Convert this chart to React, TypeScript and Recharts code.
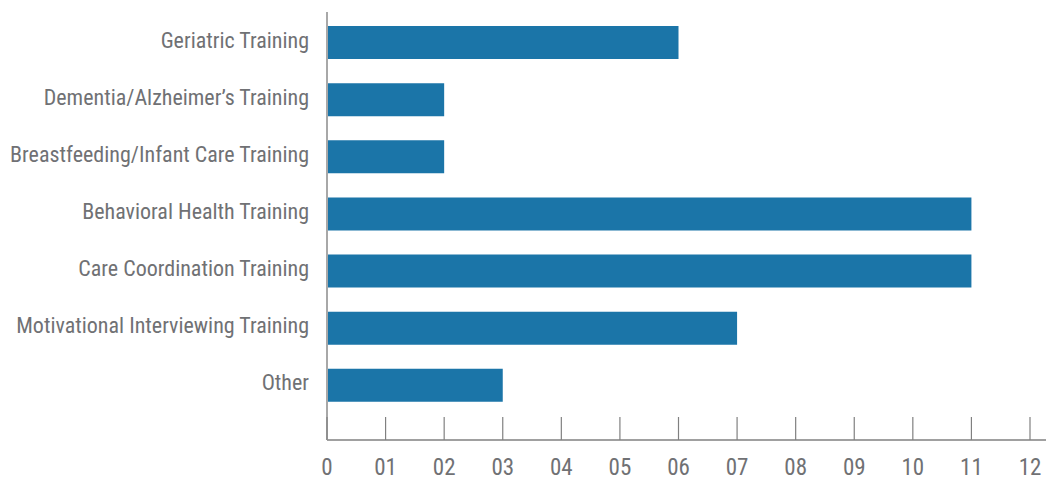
import React from "react";
import { BarChart, Bar, XAxis, YAxis } from "recharts";

const categories = [
  "Geriatric Training",
  "Dementia/Alzheimer’s Training",
  "Breastfeeding/Infant Care Training",
  "Behavioral Health Training",
  "Care Coordination Training",
  "Motivational Interviewing Training",
  "Other",
];
const values = [6, 2, 2, 11, 11, 7, 3];
const xTicks = [0, 1, 2, 3, 4, 5, 6, 7, 8, 9, 10, 11, 12];
const xTickLabels = ["0", "01", "02", "03", "04", "05", "06", "07", "08", "09", "10", "11", "12"];

const data = categories.map((name, i) => ({ name, value: values[i] }));

const FONT = "'Roboto Condensed', Roboto, sans-serif";
const TEXT = "#707174";
const AXIS = "#808080";

const XTick = (props: any) => {
  const { x, y, payload } = props;
  const idx = xTicks.indexOf(payload.value);
  return (
    <g>
      <line x1={x} x2={x} y1={y - 23} y2={y} stroke={AXIS} strokeWidth={1.2} />
      <text x={x} y={y + 35} textAnchor="middle" fill={TEXT} fontSize={23} fontFamily={FONT}>
        {idx >= 0 ? xTickLabels[idx] : payload.value}
      </text>
    </g>
  );
};

const YTick = (props: any) => {
  const { x, y, payload } = props;
  return (
    <text x={x} y={y + 5} textAnchor="end" fill={TEXT} fontSize={22} fontFamily={FONT}>
      {payload.value}
    </text>
  );
};

export default function App() {
  return (
    <div style={{ position: "absolute", left: 0, top: 0, background: "#fff" }}>
      <BarChart
        width={1046}
        height={477}
        data={data}
        layout="vertical"
        margin={{ top: 12, right: 0, bottom: 0, left: 0 }}
      >
        <XAxis
          type="number"
          domain={[0, 12]}
          ticks={xTicks}
          interval={0}
          tick={<XTick />}
          tickLine={false}
          tickSize={0}
          tickMargin={0}
          axisLine={{ stroke: AXIS, strokeWidth: 1.5 }}
          padding={{ left: 0, right: 16 }}
          height={37}
        />
        <YAxis
          type="category"
          dataKey="name"
          width={327}
          tickLine={false}
          tickSize={0}
          tickMargin={18}
          interval={0}
          axisLine={{ stroke: "#a8a8a8", strokeWidth: 2 }}
          padding={{ top: 2, bottom: 26 }}
          tick={<YTick />}
        />
        <Bar dataKey="value" fill="#1b75a8" barSize={33} isAnimationActive={false} />
      </BarChart>
    </div>
  );
}
